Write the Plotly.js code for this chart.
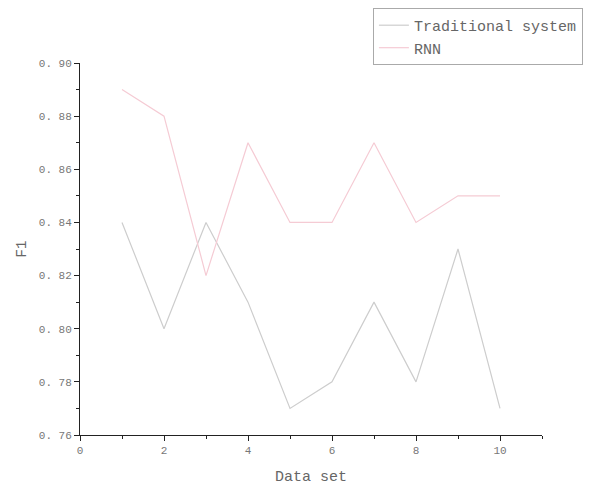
<!DOCTYPE html>
<html>
<head>
<meta charset="utf-8">
<script src="https://cdn.plot.ly/plotly-3.0.1.min.js"></script>
<style>html,body{margin:0;padding:0;background:#fff;overflow:hidden;}#chart{width:599px;height:494px;}</style>
</head>
<body>
<div id="chart"></div>
<script>
const dataSets = [1, 2, 3, 4, 5, 6, 7, 8, 9, 10];
const traditional = [0.84, 0.80, 0.84, 0.81, 0.77, 0.78, 0.81, 0.78, 0.83, 0.77];
const rnn = [0.89, 0.88, 0.82, 0.87, 0.84, 0.84, 0.87, 0.84, 0.85, 0.85];
const seriesNames = ['Traditional system', 'RNN'];
const yTickVals = [0.76, 0.78, 0.80, 0.82, 0.84, 0.86, 0.88, 0.90];
const yTickText = ['0. 76', '0. 78', '0. 80', '0. 82', '0. 84', '0. 86', '0. 88', '0. 90'];
const xTickVals = [0, 2, 4, 6, 8, 10];

const fontFam = '"Liberation Mono", "DejaVu Sans Mono", monospace';
const traces = [
  {x: dataSets, y: traditional, name: seriesNames[0], type: 'scatter', mode: 'lines',
   line: {color: '#cdcdcd', width: 1.2}},
  {x: dataSets, y: rnn, name: seriesNames[1], type: 'scatter', mode: 'lines',
   line: {color: '#f5cbd4', width: 1.2}}
];
const layout = {
  width: 599, height: 494,
  margin: {l: 80, r: 57, t: 63, b: 59, autoexpand: false},
  paper_bgcolor: '#fff', plot_bgcolor: '#fff',
  font: {family: fontFam, size: 11, color: '#777'},
  showlegend: true,
  legend: {x: 0.634, y: 1.148, xanchor: 'left', yanchor: 'top',
    bordercolor: '#aaa', borderwidth: 1, bgcolor: '#fff',
    font: {family: fontFam, size: 15, color: '#666'}, tracegroupgap: 0},
  xaxis: {range: [0, 11], tickvals: xTickVals, showgrid: false, zeroline: false,
    showline: true, linecolor: '#222', linewidth: 1, ticks: 'outside', ticklen: 5, tickcolor: '#222',
    minor: {tickvals: [1, 3, 5, 7, 9, 11], ticks: 'outside', ticklen: 3, tickcolor: '#222'},
    title: {text: 'Data set', font: {family: fontFam, size: 15, color: '#666'}, standoff: 14},
    tickfont: {family: fontFam, size: 11, color: '#777'}},
  yaxis: {range: [0.76, 0.90], tickvals: yTickVals, ticktext: yTickText, showgrid: false, zeroline: false,
    showline: true, linecolor: '#222', linewidth: 1, ticks: 'outside', ticklen: 5, tickcolor: '#222',
    minor: {dtick: 0.01, ticks: 'outside', ticklen: 3, tickcolor: '#222'},
    title: {text: 'F1', font: {family: fontFam, size: 14, color: '#666'}, standoff: 8},
    tickfont: {family: fontFam, size: 11, color: '#777'}}
};
Plotly.newPlot('chart', traces, layout, {displayModeBar: false});
</script>
</body>
</html>
